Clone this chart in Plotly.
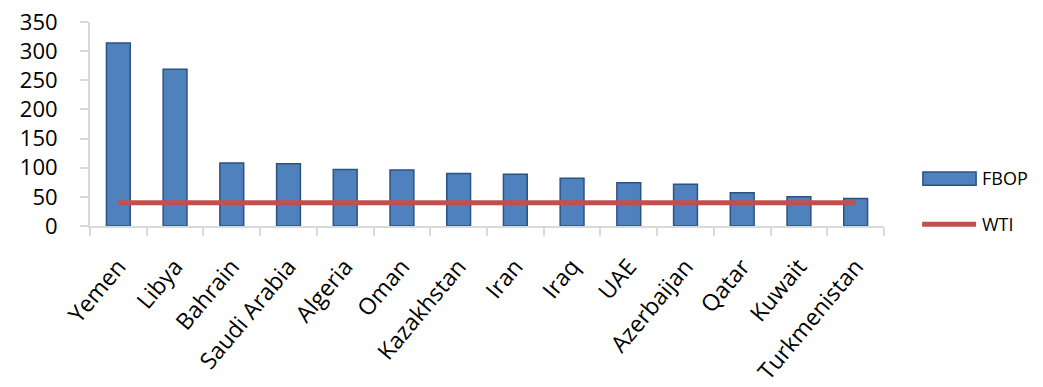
import plotly.graph_objects as go

countries = ["Yemen", "Libya", "Bahrain", "Saudi Arabia", "Algeria", "Oman", "Kazakhstan",
             "Iran", "Iraq", "UAE", "Azerbaijan", "Qatar", "Kuwait", "Turkmenistan"]
fbop = [314, 269, 108, 107, 97, 96, 90, 89, 82, 74, 71.5, 57, 50, 47]
wti = [40] * len(countries)

FONT = "Open Sans, Noto Sans, sans-serif"
BAR_COLOR = "#4F81BD"
BAR_EDGE = "#2C5283"
LINE_COLOR = "#C0504D"

fig = go.Figure()
fig.add_trace(go.Bar(
    x=countries, y=fbop, name="FBOP",
    marker=dict(color=BAR_COLOR, line=dict(color=BAR_EDGE, width=1.5)),
    showlegend=False,
))
fig.add_trace(go.Scatter(
    x=countries, y=wti, name="WTI", mode="lines",
    line=dict(color=LINE_COLOR, width=5),
    showlegend=False,
))

# legend drawn in paper coordinates (wide swatches like the original)
fig.add_shape(type="rect", xref="paper", yref="paper",
              x0=1.049, x1=1.116, y0=0.20, y1=0.265,
              fillcolor=BAR_COLOR, line=dict(color=BAR_EDGE, width=1.5))
fig.add_shape(type="line", xref="paper", yref="paper",
              x0=1.048, x1=1.116, y0=0.008, y1=0.008,
              line=dict(color=LINE_COLOR, width=5))
fig.add_annotation(xref="paper", yref="paper", x=1.121, y=0.235, text="FBOP",
                   showarrow=False, xanchor="left", yanchor="middle",
                   font=dict(size=18, family=FONT, color="black"))
fig.add_annotation(xref="paper", yref="paper", x=1.121, y=0.008, text="WTI",
                   showarrow=False, xanchor="left", yanchor="middle",
                   font=dict(size=18, family=FONT, color="black"))

fig.update_layout(
    width=1043, height=387,
    margin=dict(l=90, r=159, t=22, b=161),
    paper_bgcolor="white", plot_bgcolor="white",
    bargap=0.58,
    font=dict(family=FONT, color="black"),
    showlegend=False,
)
fig.update_xaxes(
    showline=True, linecolor="#D9D9D9", linewidth=2,
    ticks="outside", ticklen=8, tickcolor="#D9D9D9", tickwidth=2,
    tickson="boundaries",
    tickangle=-50, tickfont=dict(size=23, family=FONT),
    ticklabelstandoff=16,
    showgrid=False, automargin=False,
)
fig.update_yaxes(
    range=[0, 350], dtick=50,
    showline=True, linecolor="#D9D9D9", linewidth=2,
    ticks="outside", ticklen=8, tickcolor="#D9D9D9", tickwidth=2,
    tickfont=dict(size=22, family=FONT),
    showgrid=False, zeroline=False,
    ticklabelstandoff=18, automargin=False,
)

fig.write_html("out.html")
